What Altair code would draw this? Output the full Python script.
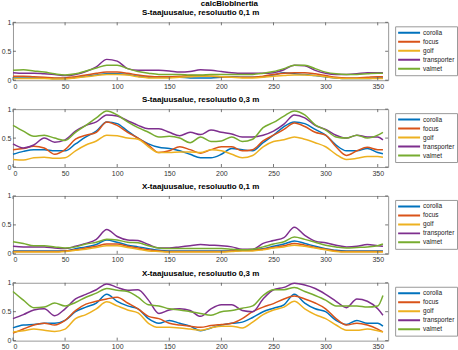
import altair as alt
import pandas as pd

angles = list(range(0, 360, 10)) + [355]
cars = ["corolla", "focus", "golf", "transporter", "valmet"]
colors = ["#0072BD", "#D95319", "#EDB120", "#7E2F8E", "#77AC30"]
x_ticks = [0, 50, 100, 150, 200, 250, 300, 350]
y_ticks = [0, 0.5, 1]
main_title = "calcBlobInertia"
panel_titles = [
    "S-taajuusalue, resoluutio 0,1 m",
    "S-taajuusalue, resoluutio 0,3 m",
    "X-taajuusalue, resoluutio 0,1 m",
    "X-taajuusalue, resoluutio 0,3 m",
]

# Panel 1: S, 0.1 m
s01_corolla = [0.04,0.04,0.04,0.04,0.03,0.03,0.05,0.07,0.09,0.11,0.11,0.10,0.07,0.05,0.05,0.05,0.05,0.04,0.04,0.04,0.05,0.06,0.05,0.05,0.06,0.09,0.13,0.11,0.10,0.08,0.06,0.04,0.03,0.03,0.03,0.04,0.04]
s01_focus = [0.07,0.07,0.06,0.05,0.04,0.04,0.06,0.09,0.12,0.14,0.14,0.12,0.09,0.07,0.06,0.06,0.07,0.08,0.08,0.07,0.06,0.05,0.05,0.05,0.07,0.10,0.12,0.13,0.13,0.11,0.08,0.05,0.04,0.04,0.05,0.06,0.06]
s01_golf = [0.03,0.03,0.03,0.03,0.02,0.02,0.04,0.06,0.08,0.10,0.10,0.09,0.06,0.04,0.04,0.04,0.05,0.06,0.07,0.07,0.06,0.05,0.04,0.04,0.05,0.07,0.08,0.09,0.09,0.08,0.06,0.04,0.03,0.03,0.03,0.03,0.03]
s01_transporter = [0.13,0.12,0.12,0.11,0.10,0.08,0.10,0.15,0.23,0.36,0.33,0.20,0.17,0.17,0.17,0.16,0.14,0.15,0.18,0.17,0.15,0.13,0.12,0.12,0.12,0.13,0.18,0.26,0.25,0.17,0.12,0.10,0.10,0.11,0.13,0.13,0.13]
s01_valmet = [0.17,0.18,0.16,0.14,0.11,0.09,0.11,0.16,0.21,0.26,0.26,0.20,0.15,0.12,0.10,0.10,0.10,0.09,0.09,0.10,0.10,0.10,0.10,0.10,0.12,0.15,0.20,0.26,0.26,0.20,0.14,0.11,0.10,0.10,0.11,0.12,0.12]

# Panel 2: S, 0.3 m
s03_corolla = [0.22,0.27,0.30,0.30,0.28,0.28,0.40,0.52,0.62,0.78,0.75,0.62,0.50,0.40,0.34,0.32,0.28,0.22,0.16,0.16,0.22,0.32,0.30,0.28,0.42,0.55,0.70,0.78,0.75,0.65,0.55,0.38,0.28,0.28,0.32,0.25,0.23]
s03_focus = [0.30,0.32,0.36,0.33,0.22,0.30,0.48,0.55,0.60,0.78,0.72,0.60,0.50,0.38,0.25,0.28,0.35,0.30,0.24,0.30,0.35,0.35,0.28,0.30,0.45,0.55,0.65,0.76,0.70,0.60,0.55,0.35,0.20,0.28,0.34,0.30,0.30]
s03_golf = [0.13,0.12,0.16,0.17,0.15,0.16,0.28,0.38,0.45,0.55,0.54,0.50,0.48,0.35,0.25,0.25,0.26,0.26,0.25,0.30,0.28,0.22,0.16,0.20,0.35,0.44,0.47,0.52,0.48,0.42,0.35,0.22,0.13,0.15,0.18,0.18,0.17]
s03_transporter = [0.40,0.33,0.38,0.50,0.43,0.47,0.62,0.72,0.78,0.90,0.88,0.80,0.72,0.66,0.66,0.60,0.54,0.60,0.56,0.64,0.60,0.57,0.52,0.52,0.55,0.62,0.74,0.90,0.85,0.72,0.65,0.55,0.50,0.55,0.52,0.52,0.47]
s03_valmet = [0.72,0.62,0.53,0.55,0.50,0.46,0.60,0.72,0.85,0.97,0.90,0.78,0.68,0.60,0.52,0.53,0.50,0.42,0.52,0.44,0.45,0.52,0.44,0.48,0.68,0.77,0.88,0.97,0.90,0.73,0.64,0.52,0.50,0.55,0.50,0.55,0.60]

# Panel 3: X, 0.1 m
x01_corolla = [0.05,0.05,0.05,0.05,0.05,0.05,0.09,0.12,0.16,0.24,0.20,0.15,0.12,0.09,0.06,0.05,0.05,0.05,0.05,0.05,0.05,0.05,0.06,0.07,0.09,0.13,0.17,0.22,0.18,0.13,0.09,0.06,0.05,0.05,0.05,0.05,0.05]
x01_focus = [0.04,0.04,0.04,0.04,0.04,0.05,0.07,0.10,0.13,0.17,0.17,0.13,0.10,0.07,0.05,0.04,0.04,0.04,0.04,0.04,0.04,0.05,0.06,0.06,0.08,0.11,0.14,0.18,0.15,0.11,0.08,0.05,0.04,0.04,0.04,0.04,0.04]
x01_golf = [0.03,0.03,0.03,0.03,0.03,0.04,0.06,0.08,0.11,0.14,0.14,0.11,0.08,0.05,0.04,0.03,0.03,0.03,0.03,0.03,0.03,0.04,0.05,0.05,0.07,0.10,0.12,0.15,0.13,0.10,0.07,0.04,0.03,0.03,0.03,0.03,0.03]
x01_transporter = [0.13,0.12,0.12,0.12,0.10,0.09,0.13,0.18,0.25,0.42,0.30,0.24,0.23,0.16,0.10,0.10,0.12,0.14,0.16,0.15,0.14,0.12,0.08,0.08,0.18,0.23,0.28,0.46,0.32,0.22,0.19,0.15,0.12,0.13,0.16,0.14,0.13]
x01_valmet = [0.21,0.18,0.14,0.14,0.12,0.10,0.12,0.17,0.20,0.25,0.24,0.20,0.19,0.14,0.10,0.09,0.09,0.09,0.09,0.09,0.09,0.08,0.07,0.08,0.12,0.17,0.21,0.29,0.25,0.20,0.15,0.12,0.10,0.11,0.12,0.14,0.17]

# Panel 4: X, 0.3 m
x03_corolla = [0.22,0.27,0.28,0.30,0.30,0.35,0.50,0.58,0.65,0.80,0.68,0.60,0.55,0.38,0.30,0.35,0.30,0.25,0.17,0.22,0.27,0.30,0.32,0.40,0.50,0.56,0.62,0.80,0.65,0.55,0.50,0.35,0.28,0.35,0.30,0.30,0.25]
x03_focus = [0.13,0.20,0.27,0.30,0.27,0.35,0.52,0.63,0.68,0.72,0.75,0.65,0.55,0.42,0.38,0.30,0.27,0.25,0.23,0.26,0.28,0.30,0.38,0.50,0.58,0.64,0.72,0.77,0.72,0.65,0.55,0.38,0.27,0.30,0.27,0.20,0.15]
x03_golf = [0.15,0.17,0.20,0.18,0.16,0.20,0.38,0.45,0.55,0.67,0.60,0.53,0.48,0.30,0.23,0.23,0.22,0.20,0.18,0.22,0.25,0.25,0.22,0.32,0.45,0.53,0.58,0.68,0.55,0.45,0.38,0.27,0.18,0.18,0.20,0.17,0.15]
x03_transporter = [0.38,0.45,0.53,0.55,0.43,0.55,0.72,0.80,0.88,0.98,0.92,0.87,0.88,0.70,0.47,0.53,0.55,0.52,0.42,0.55,0.62,0.62,0.52,0.50,0.72,0.88,0.92,0.99,0.96,0.90,0.80,0.68,0.57,0.72,0.68,0.55,0.44]
x03_valmet = [0.85,0.70,0.57,0.58,0.65,0.60,0.66,0.75,0.82,0.90,0.87,0.85,0.75,0.62,0.60,0.55,0.53,0.50,0.47,0.44,0.50,0.52,0.56,0.60,0.78,0.88,0.88,0.92,0.85,0.78,0.70,0.60,0.60,0.60,0.58,0.60,0.78]

panel_series = [
    [s01_corolla, s01_focus, s01_golf, s01_transporter, s01_valmet],
    [s03_corolla, s03_focus, s03_golf, s03_transporter, s03_valmet],
    [x01_corolla, x01_focus, x01_golf, x01_transporter, x01_valmet],
    [x03_corolla, x03_focus, x03_golf, x03_transporter, x03_valmet],
]

W, H = 376, 58
FONT = "Liberation Sans"
TICK = "#555555"


def make_panel(title, series_list):
    rows = []
    for car, vals in zip(cars, series_list):
        for a, v in zip(angles, vals):
            rows.append({"angle": a, "value": v, "car": car})
    df = pd.DataFrame(rows)
    xscale = alt.Scale(domain=[0, 360], nice=False, zero=False)
    yscale = alt.Scale(domain=[0, 1], nice=False)
    xaxis = alt.Axis(values=x_ticks, title=None, format="d")
    yaxis = alt.Axis(values=y_ticks, title=None, format="~g")
    lines = alt.Chart(df).mark_line(strokeWidth=1.5, interpolate="monotone").encode(
        x=alt.X("angle:Q", scale=xscale, axis=xaxis),
        y=alt.Y("value:Q", scale=yscale, axis=yaxis),
        color=alt.Color(
            "car:N",
            scale=alt.Scale(domain=cars, range=colors),
            legend=alt.Legend(
                title=None, orient="none", legendX=383, legendY=4,
                symbolType="stroke", symbolSize=484, symbolStrokeWidth=2,
                clipHeight=9, rowPadding=0, padding=2,
                labelFontSize=6.5, labelFont=FONT, labelColor="#222222",
                labelOffset=2, strokeColor="#999999", fillColor="white",
            ),
        ),
    )
    xt = pd.DataFrame({"angle": x_ticks})
    yt = pd.DataFrame({"value": y_ticks})
    xb = alt.Chart(xt).mark_rule(color=TICK, strokeWidth=0.8).encode(
        x=alt.X("angle:Q", scale=xscale, axis=xaxis),
        y=alt.value(H), y2=alt.value(H - 3))
    xtop = alt.Chart(xt).mark_rule(color=TICK, strokeWidth=0.8).encode(
        x=alt.X("angle:Q", scale=xscale, axis=xaxis),
        y=alt.value(0), y2=alt.value(3))
    yl = alt.Chart(yt).mark_rule(color=TICK, strokeWidth=0.8).encode(
        y=alt.Y("value:Q", scale=yscale, axis=yaxis),
        x=alt.value(0), x2=alt.value(3))
    yr = alt.Chart(yt).mark_rule(color=TICK, strokeWidth=0.8).encode(
        y=alt.Y("value:Q", scale=yscale, axis=yaxis),
        x=alt.value(W), x2=alt.value(W - 3))
    return alt.layer(lines, xb, xtop, yl, yr).properties(
        width=W, height=H,
        title=alt.TitleParams(title, fontSize=8, font=FONT, fontWeight="bold",
                              color="#000000", offset=1),
    )


panels = [make_panel(t, s) for t, s in zip(panel_titles, panel_series)]

chart = alt.vconcat(*panels, spacing=5).resolve_legend(
    color="independent"
).resolve_scale(
    color="independent"
).properties(
    title=alt.TitleParams(main_title, fontSize=8, font=FONT, fontWeight="bold",
                          color="#000000", anchor="middle", offset=1),
    padding={"left": 0, "top": -1, "right": 0, "bottom": 0},
).configure_view(
    stroke="#999999", strokeWidth=1
).configure_axis(
    domain=False, ticks=False, grid=False, labelFontSize=7, labelFont=FONT,
    labelColor="#333333", labelPadding=2,
).configure_legend(
    labelLimit=100
)

chart.save("out.html", embed_options={"renderer": "svg", "actions": False})
